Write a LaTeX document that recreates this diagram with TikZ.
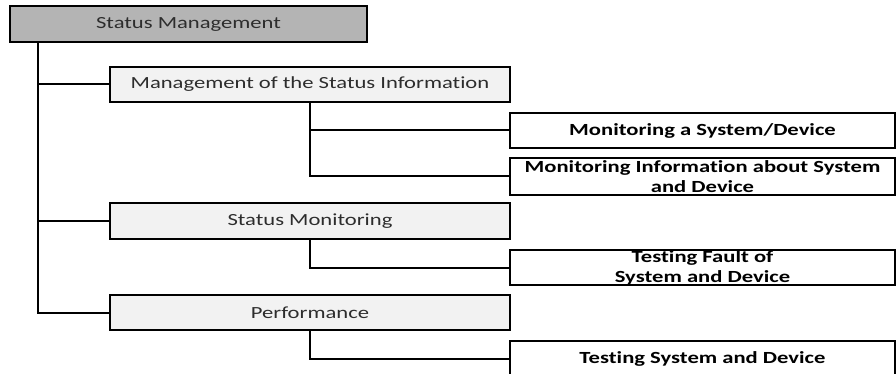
\documentclass[tikz,border=0pt]{standalone}
\usepackage{fontspec}
\setmainfont{Carlito}[FakeStretch=1.33,Ligatures=NoCommon]
\definecolor{topgray}{RGB}{180,180,180}
\definecolor{paleGray}{RGB}{242,242,242}
\definecolor{txtgray}{RGB}{45,45,45}
\begin{document}
\begin{tikzpicture}[x=1pt,y=-1pt,
  topbox/.style={draw=black, line width=1.6pt, fill=topgray, inner sep=0pt, outer sep=0pt,
    anchor=north west, text=txtgray, font=\fontsize{17}{20}\selectfont},
  lightbox/.style={topbox, fill=paleGray},
  whitebox/.style={draw=black, line width=1.6pt, fill=white, inner sep=0pt, outer sep=0pt,
    anchor=north west, align=center, text=black, font=\fontsize{17}{20}\selectfont\bfseries},
  wire/.style={line width=2pt, black}]
\useasboundingbox (0,0) rectangle (896,374);
\clip (0,0) rectangle (896,374);
\fill[white] (0,0) rectangle (896,374);

\node[topbox, minimum width=357pt, minimum height=36pt] (sm) at (10,6) {Status Management};
\node[lightbox, minimum width=400pt, minimum height=35pt] (msi) at (110,67) {Management of the Status Information};
\node[whitebox, minimum width=385pt, minimum height=35pt] (mon1) at (510,113) {Monitoring a System/Device};
\node[whitebox, minimum width=385pt, minimum height=37pt] (mon2) at (510,158) {Monitoring Information about System\\and Device};
\node[lightbox, minimum width=400pt, minimum height=36pt] (smon) at (110,203) {Status Monitoring};
\node[whitebox, minimum width=385pt, minimum height=35pt] (tf) at (510,250) {Testing Fault of\\System and Device};
\node[lightbox, minimum width=400pt, minimum height=35pt] (perf) at (110,295) {Performance};
\node[whitebox, minimum width=385pt, minimum height=36pt] (tsd) at (510,341) {Testing System and Device};

\coordinate (trunk) at ([xshift=28pt]sm.south west);
\draw[wire] (trunk) |- (msi.west);
\draw[wire] (trunk) |- (smon.west);
\draw[wire] (trunk) |- (perf.west);
\draw[wire] (msi.south) |- (mon1.west);
\draw[wire] (msi.south) |- (mon2.west);
\draw[wire] (smon.south) |- (tf.west);
\draw[wire] (perf.south) |- (tsd.west);
\end{tikzpicture}
\end{document}
